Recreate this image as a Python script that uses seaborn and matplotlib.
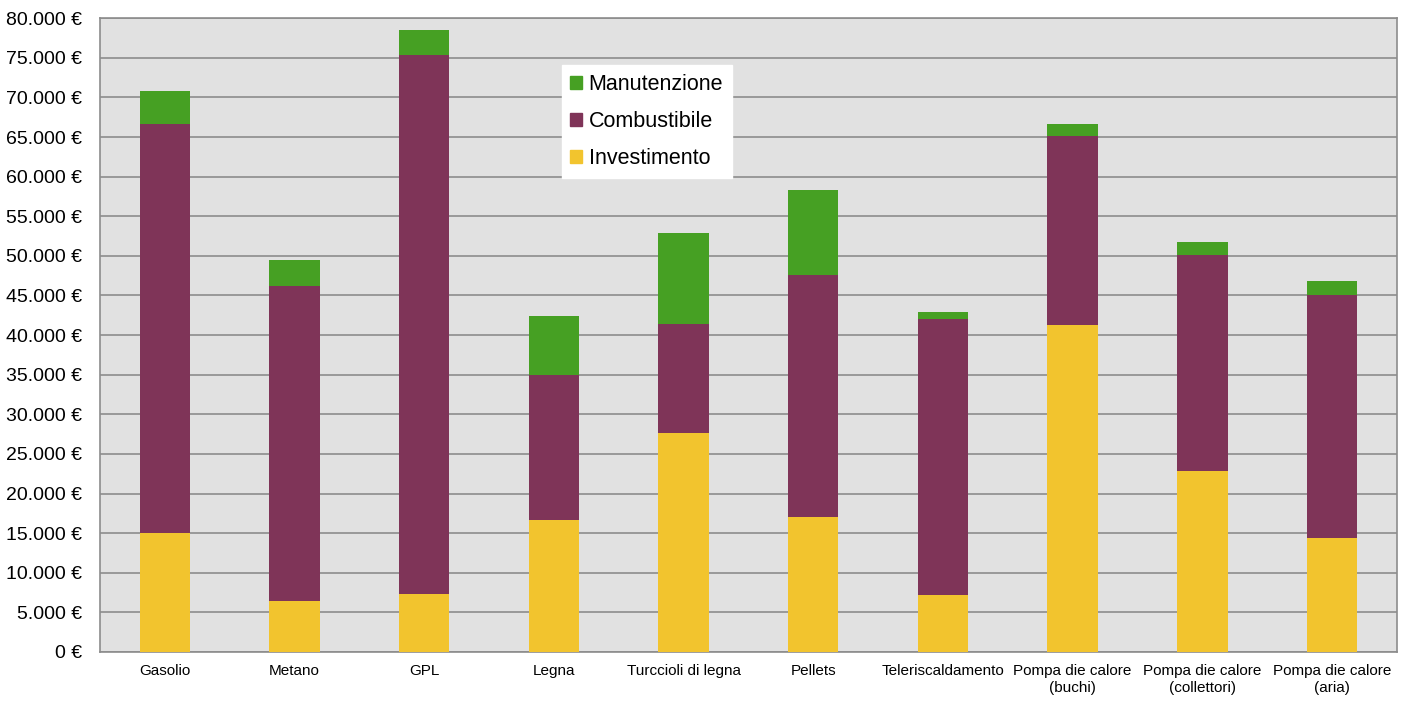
import pandas as pd
import matplotlib.pyplot as plt
import seaborn as sns
from matplotlib.ticker import FuncFormatter, MultipleLocator
from matplotlib.patches import Patch

# Data (euro)
categories = ['Gasolio', 'Metano', 'GPL', 'Legna', 'Turccioli di legna', 'Pellets',
              'Teleriscaldamento', 'Pompa die calore\n(buchi)',
              'Pompa die calore\n(collettori)', 'Pompa die calore\n(aria)']
investimento = [15000, 6400, 7300, 16700, 27600, 17000, 7200, 41300, 22800, 14400]
combustibile = [51600, 39800, 68000, 18300, 13800, 30600, 34800, 23800, 27300, 30600]
manutenzione = [4200, 3300, 3200, 7400, 11500, 10700, 900, 1500, 1600, 1800]

df = pd.DataFrame({'cat': categories, 'inv': investimento,
                   'comb': combustibile, 'man': manutenzione})
df['inv_comb'] = df['inv'] + df['comb']
df['total'] = df['inv_comb'] + df['man']

col_man = '#46a023'
col_comb = '#7f3458'
col_inv = '#f2c42e'

plt.rcParams['font.family'] = ['Liberation Sans', 'DejaVu Sans']

fig, ax = plt.subplots(figsize=(14.08, 7.01), dpi=100)
fig.subplots_adjust(left=0.071, right=0.992, top=0.974, bottom=0.07)
ax.set_facecolor('#e1e1e1')

# Stacked bars: draw cumulative totals back to front
bar_w = 0.39
sns.barplot(x='cat', y='total', data=df, color=col_man, width=bar_w, saturation=1, ax=ax, zorder=2)
sns.barplot(x='cat', y='inv_comb', data=df, color=col_comb, width=bar_w, saturation=1, ax=ax, zorder=3)
sns.barplot(x='cat', y='inv', data=df, color=col_inv, width=bar_w, saturation=1, ax=ax, zorder=4)

ax.set_ylim(0, 80000)
ax.set_xlim(-0.5, len(categories) - 0.5)
ax.yaxis.set_major_locator(MultipleLocator(5000))
ax.yaxis.set_major_formatter(FuncFormatter(lambda v, p: f'{int(v):,} €'.replace(',', '.')))
ax.grid(axis='y', color='#8c8c8c', linewidth=1.2, zorder=1)
ax.set_axisbelow(True)
ax.set_xlabel('')
ax.set_ylabel('')
ax.tick_params(axis='both', length=0)
ax.tick_params(axis='y', labelsize=14, pad=13)
ax.tick_params(axis='x', labelsize=11, pad=9)
for s in ['left', 'bottom', 'top', 'right']:
    ax.spines[s].set_color('#8c8c8c')
    ax.spines[s].set_linewidth(1.2)

handles = [Patch(color=col_man, label='Manutenzione'),
           Patch(color=col_comb, label='Combustibile'),
           Patch(color=col_inv, label='Investimento')]
leg = ax.legend(handles=handles, loc='upper left', bbox_to_anchor=(0.356, 0.926),
                borderaxespad=0, fontsize=15.5, frameon=True, fancybox=False,
                framealpha=1, edgecolor='white', handlelength=0.55, handleheight=0.55,
                handletextpad=0.3, labelspacing=0.75, borderpad=0.4)
leg.set_zorder(10)

plt.savefig('out.png', dpi=100)
